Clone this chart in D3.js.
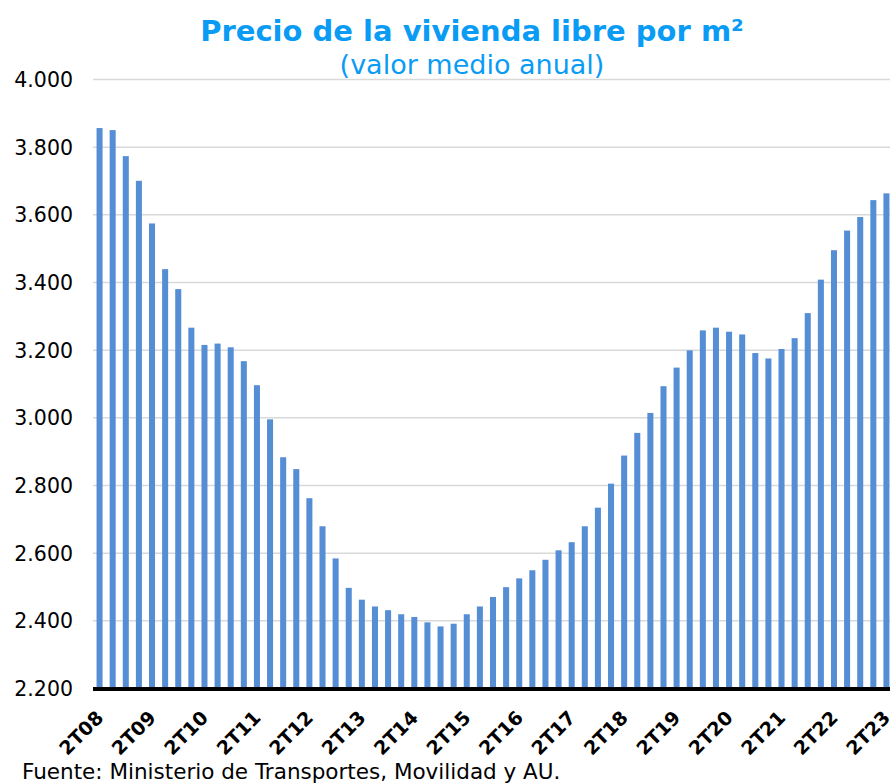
<!DOCTYPE html>
<html>
<head>
<meta charset="utf-8">
<script src="https://cdn.jsdelivr.net/npm/d3@7"></script>
<style>
  body { margin: 0; background: #fff; }
  svg { display: block; font-family: "DejaVu Sans", Verdana, sans-serif; }
</style>
</head>
<body>
<div id="chart"></div>
<script>
// quarters, 2T08 .. 2T23
const quarters = [
    "2T08", "3T08", "4T08", "1T09", "2T09", "3T09", "4T09", "1T10",
    "2T10", "3T10", "4T10", "1T11", "2T11", "3T11", "4T11", "1T12",
    "2T12", "3T12", "4T12", "1T13", "2T13", "3T13", "4T13", "1T14",
    "2T14", "3T14", "4T14", "1T15", "2T15", "3T15", "4T15", "1T16",
    "2T16", "3T16", "4T16", "1T17", "2T17", "3T17", "4T17", "1T18",
    "2T18", "3T18", "4T18", "1T19", "2T19", "3T19", "4T19", "1T20",
    "2T20", "3T20", "4T20", "1T21", "2T21", "3T21", "4T21", "1T22",
    "2T22", "3T22", "4T22", "1T23", "2T23"
];
// euros per m2
const precio = [
    3855, 3849, 3772, 3699, 3573, 3438, 3379, 3265,
    3214, 3218, 3207, 3166, 3095, 2994, 2882, 2847,
    2761, 2678, 2583, 2496, 2461, 2441, 2430, 2418,
    2410, 2394, 2382, 2390, 2418, 2441, 2469, 2498,
    2524, 2548, 2579, 2607, 2631, 2678, 2733, 2804,
    2887, 2954, 3013, 3092, 3147, 3198, 3257, 3265,
    3253, 3245, 3190, 3174, 3202, 3234, 3308, 3407,
    3494, 3552, 3592, 3642, 3662
];
const yTicks = [2200, 2400, 2600, 2800, 3000, 3200, 3400, 3600, 3800, 4000];
const shownLabels = quarters.filter(q => q.startsWith("2T"));

const width = 890, height = 783;
const plot = { left: 93, right: 893, top: 79, bottom: 688 };

const svg = d3.select("#chart").append("svg")
    .attr("width", width)
    .attr("height", height);

svg.append("rect").attr("width", width).attr("height", height).attr("fill", "#fff");

const x = d3.scaleBand()
    .domain(quarters)
    .range([plot.left, plot.right])
    .paddingInner(0.54)
    .paddingOuter(0.27);

const y = d3.scaleLinear()
    .domain([2200, 4000])
    .range([plot.bottom, plot.top]);

// gridlines + y labels
const yAxis = d3.axisLeft(y)
    .tickValues(yTicks)
    .tickSize(-(width - plot.left))
    .tickPadding(18)
    .tickFormat(d => d3.format(",")(d).replace(",", "."));

const gy = svg.append("g")
    .attr("transform", `translate(${plot.left},0)`)
    .call(yAxis);
gy.select(".domain").remove();
gy.selectAll(".tick line").attr("stroke", "#d9d9d9").attr("stroke-width", 1.5);
gy.selectAll(".tick text")
    .attr("font-size", 20.5)
    .attr("font-family", "DejaVu Sans")
    .attr("fill", "#000")
    .attr("x", -20)
    .attr("dy", "0.36em");

// bars
svg.append("g").selectAll("rect")
    .data(quarters)
    .join("rect")
    .attr("x", d => x(d))
    .attr("width", x.bandwidth())
    .attr("y", (d, i) => y(precio[i]))
    .attr("height", (d, i) => y(2200) - y(precio[i]))
    .attr("fill", "#558ed5");

// base axis line
svg.append("line")
    .attr("x1", plot.left).attr("x2", width)
    .attr("y1", plot.bottom + 1).attr("y2", plot.bottom + 1)
    .attr("stroke", "#000")
    .attr("stroke-width", 4);

// rotated x labels, one per year
svg.append("g").selectAll("text")
    .data(shownLabels)
    .join("text")
    .attr("transform", d => `translate(${x(d) + x.bandwidth() / 2 + 5},719) rotate(-45)`)
    .attr("text-anchor", "end")
    .attr("font-size", 19)
    .attr("font-weight", "bold")
    .attr("fill", "#000")
    .text(d => d);

// titles
svg.append("text")
    .attr("x", 472).attr("y", 41)
    .attr("text-anchor", "middle")
    .attr("font-size", 29)
    .attr("font-weight", "bold")
    .attr("fill", "#0a9cf5")
    .text("Precio de la vivienda libre por m²");

svg.append("text")
    .attr("x", 472).attr("y", 74)
    .attr("text-anchor", "middle")
    .attr("font-size", 27)
    .attr("fill", "#0a9cf5")
    .text("(valor medio anual)");

// source
svg.append("text")
    .attr("x", 22).attr("y", 779)
    .attr("font-size", 21.5)
    .attr("fill", "#000")
    .text("Fuente: Ministerio de Transportes, Movilidad y AU.");
</script>
</body>
</html>
